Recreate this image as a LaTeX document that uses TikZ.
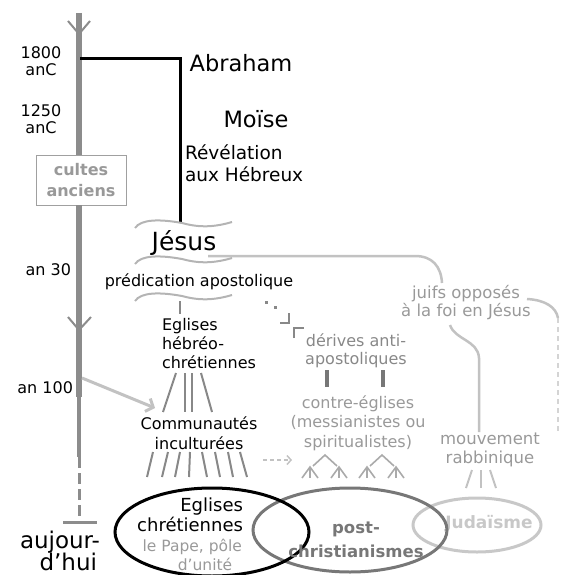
\documentclass[tikz,border=0pt]{standalone}
\usepackage{fontspec}
\setmainfont{DejaVu Sans}
\usetikzlibrary{arrows.meta}
\definecolor{tlgray}{HTML}{8C8C8C}
\definecolor{boxgray}{HTML}{A0A0A0}
\definecolor{boxtext}{HTML}{999999}
\definecolor{wavegray}{HTML}{B4B4B4}
\definecolor{jewgray}{HTML}{C2C2C2}
\definecolor{midgray}{HTML}{888888}
\definecolor{darkgray}{HTML}{777777}
\definecolor{lighttext}{HTML}{999999}
\definecolor{fangray}{HTML}{AAAAAA}
\definecolor{judgray}{HTML}{C8C8C8}
\definecolor{faint}{HTML}{D4D4D4}
\begin{document}
\begin{tikzpicture}[x=1pt,y=-1pt,
  every node/.style={inner sep=0pt,outer sep=0pt},
  small/.style={font=\fontsize{16}{19}\selectfont,align=center},
  big/.style={font=\fontsize{22.5}{26}\selectfont},
  tline/.style={draw=tlgray,line width=6pt},
  chev/.style={draw=tlgray,line width=2pt},
  wave/.style={draw=wavegray,line width=2pt},
  jline/.style={draw=jewgray,line width=2.5pt},
  hline/.style={draw=midgray,line width=2pt},
  fan/.style={draw=fangray,line width=1.6pt},
]
\useasboundingbox (0,0) rectangle (560,575);

% ---------- timeline ----------
\coordinate (tTop) at (79,13);
\node[draw=boxgray,line width=1pt,minimum width=90pt,minimum height=50pt,
      font=\bfseries\fontsize{16}{21}\selectfont,text=boxtext,align=center]
      (cultes) at (81,180) {cultes\\anciens};
\coordinate (t100) at (79,397);
\coordinate (tThin) at (79,457);
\coordinate (tEnd) at (79,522);
\coordinate (barL) at (63,522);
\coordinate (barR) at (97,522);
\draw[tline] (tTop) -- (cultes.north -| tTop);
\draw[tline] (cultes.south -| tTop) -- (t100);
\draw[draw=tlgray,line width=3.5pt] (t100) -- (tThin);
\draw[draw=tlgray,line width=3pt,dash pattern=on 11pt off 5pt] (tThin) -- (tEnd);
\draw[draw=tlgray,line width=3pt] (barL) -- (barR);
\draw[chev] (68,21) -- (79,34) -- (90,21);
\draw[chev] (68,317) -- (79,330) -- (91,317);

% dates
\node[small,font=\fontsize{16}{17}\selectfont] (d1800) at (41,61) {1800\\anC};
\node[small,font=\fontsize{16}{17}\selectfont] (d1250) at (41,119) {1250\\anC};
\node[small,anchor=east] (d30) at (71,270) {an 30};
\node[small,anchor=east] (d100) at (73,388) {an 100};
\node[font=\fontsize{23}{23}\selectfont,anchor=east] (today) at (100,542) {aujour-};
\node[font=\fontsize{23}{23}\selectfont,anchor=east] (today2) at (97,562) {d’hui};

% ---------- Abraham / Moise ----------
\node[big] (abraham) at (241,63) {Abraham};
\node[big] (moise) at (256,119) {Moïse};
\node[font=\fontsize{18.5}{22}\selectfont,align=left,anchor=west] (revel) at (185,163) {Révélation\\aux Hébreux};
\coordinate (abrL) at (80,59);
\coordinate (abrC) at (180,59);
\coordinate (jTop) at (180,223);
\draw[black,line width=3pt] (abrL) -- (abrC) -- (jTop);

% ---------- Jesus ----------
\node[font=\fontsize{25}{25}\selectfont] (jesus) at (184,243) {Jésus};
\node[small] (predic) at (199,282) {prédication apostolique};
\foreach \dy in {0,36,73}{
  \draw[wave] (135,228+\dy) .. controls (141,219+\dy) and (160,219+\dy) .. (182,223+\dy)
     .. controls (200,228+\dy) and (215,227+\dy) .. (232,222+\dy);
}
\coordinate (pBot) at (180,301);
\coordinate (ehcTop) at (180,314);
\draw[draw=midgray,line width=2pt] (pBot) -- (ehcTop);

% ---------- Eglises hebreo-chretiennes ----------
\node[small,align=left,anchor=west] (ehc) at (162,344) {Eglises\\hébréo-\\chrétiennes};
\draw[hline] (176,373) -- (163,412);
\draw[hline] (185,373) -- (185,412);
\draw[hline] (192,373) -- (192,412);
\draw[hline] (201,373) -- (212,412);

% ---------- Communautes ----------
\node[small,font=\fontsize{16}{20}\selectfont] (comm) at (199,433) {Communautés\\inculturées};
\coordinate (a100) at (82,378);
\coordinate (aTip) at (155,408);
\draw[draw=jewgray,line width=3pt,-{Straight Barb[length=6pt,width=14pt]}] (a100) -- (aTip);
\foreach \xt/\xb in {153/147,168/162,180/175,190/189,202/207,215/220,228/233,240/247}{
  \draw[hline] (\xt,452) -- (\xb,477);
}
\coordinate (dashS) at (263,460);
\coordinate (dashE) at (292,460);
\draw[draw=jewgray,line width=1.5pt,dash pattern=on 4pt off 3pt,-{Straight Barb[length=4pt,width=9pt]}] (dashS) -- (dashE);

% ---------- derives ----------
\foreach \x/\y in {266/302,275/307}{
  \fill[midgray] (\x-1.5,\y-1.5) rectangle (\x+1.5,\y+1.5);
}
\draw[draw=midgray,line width=2.5pt] (280,323) -- (289,323) -- (289,313);
\draw[draw=midgray,line width=2.5pt] (294,338) -- (294,328) -- (304,328);
\node[small,text=midgray,font=\fontsize{16}{18}\selectfont] (derives) at (356,351) {dérives anti-\\apostoliques};
\draw[draw=darkgray,line width=3.5pt] (327,370) -- (327,387);
\draw[draw=darkgray,line width=3.5pt] (383,370) -- (383,387);
\node[small,text=lighttext,font=\fontsize{16}{19.5}\selectfont] (contre) at (358,423) {contre-églises\\(messianistes ou\\spiritualistes)};
\foreach \cx in {325,382}{
  \draw[fan] (\cx-12,466) -- (\cx,455) -- (\cx+12,466);
}
\foreach \fx in {310,339,367,396}{
  \draw[fan] (\fx-8,478) -- (\fx,467) -- (\fx+8,478);
  \draw[fan] (\fx,467) -- (\fx,478);
}

% ---------- juifs ----------
\node[small,text=lighttext,font=\fontsize{16.5}{18}\selectfont] (juifs) at (466,303) {juifs opposés\\à la foi en Jésus};
\coordinate (jsR) at (208,256);
\coordinate (jsM) at (415,256);
\coordinate (juTop) at (442,283);
\draw[jline] (jsR) -- (jsM) .. controls (432,256) and (441,266) .. (juTop);
\coordinate (juR) at (527,299);
\coordinate (edge) at (558,318);
\coordinate (edgeB) at (558,432);
\draw[jline] (juR) .. controls (545,300) and (556,307) .. (edge);
\draw[draw=faint,line width=1.2pt,dash pattern=on 5pt off 4pt] (edge) -- (edgeB);
\coordinate (juB) at (450,325);
\coordinate (mvTop) at (479,432);
\draw[jline] (juB) .. controls (455,340) and (478,340) .. (479,358) -- (mvTop);
\node[small,text=lighttext,font=\fontsize{16.5}{19}\selectfont] (mouv) at (490,450) {mouvement\\rabbinique};
\draw[draw=jewgray,line width=2pt] (472,470) -- (466,488);
\draw[draw=jewgray,line width=2pt] (481,470) -- (481,488);
\draw[draw=jewgray,line width=2pt] (490,470) -- (496,488);

% ---------- ellipses ----------
\coordinate (judC) at (477,525);
\coordinate (postC) at (350,530);
\coordinate (egC) at (212,532);
\draw[draw=judgray,line width=3pt] (judC) ellipse [x radius=64pt,y radius=27pt];
\node[font=\bfseries\fontsize{17}{17}\selectfont,text=judgray] (juda) at (489,524) {Judaïsme};
\draw[draw=darkgray,line width=3pt] (postC) ellipse [x radius=97pt,y radius=42pt];
\draw[black,line width=3pt] (egC) ellipse [x radius=97pt,y radius=44pt];
\node[font=\bfseries\fontsize{16.5}{24}\selectfont,text=darkgray,align=center] (post) at (356,540) {post-\\christianismes};
\node[font=\fontsize{18}{20}\selectfont,align=right,anchor=east] (egl) at (243,515) {Eglises\\chrétiennes};
\node[font=\fontsize{15.5}{16}\selectfont,text=lighttext,anchor=east] (pape) at (242,547) {le Pape, pôle};
\node[font=\fontsize{15.5}{16}\selectfont,text=lighttext] (unite) at (205,564) {d’unité};
\end{tikzpicture}
\end{document}
